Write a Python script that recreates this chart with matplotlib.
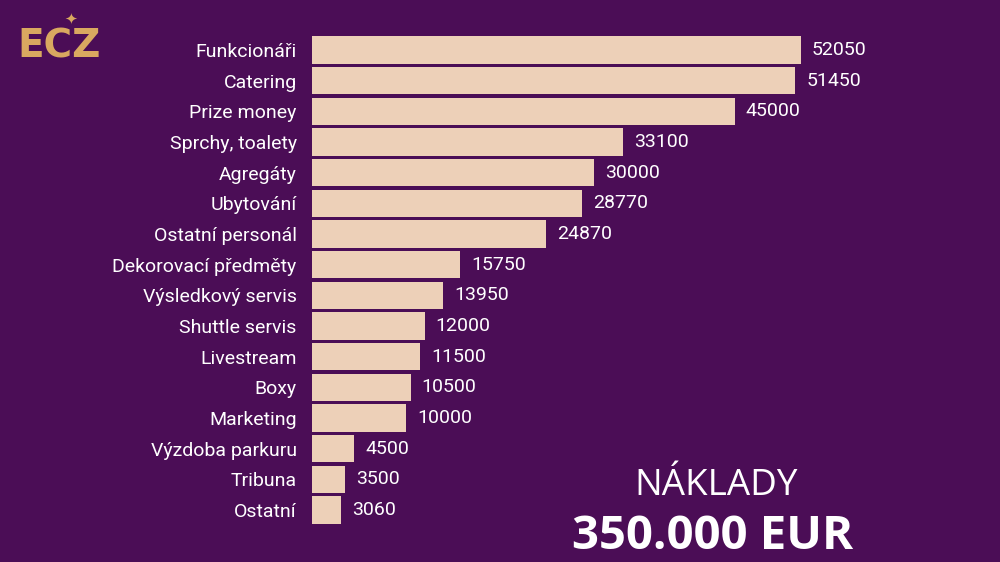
import matplotlib.pyplot as plt

# data
kategorie = ["Funkcionáři", "Catering", "Prize money", "Sprchy, toalety", "Agregáty",
             "Ubytování", "Ostatní personál", "Dekorovací předměty", "Výsledkový servis",
             "Shuttle servis", "Livestream", "Boxy", "Marketing", "Výzdoba parkuru",
             "Tribuna", "Ostatní"]
naklady = [52050, 51450, 45000, 33100, 30000, 28770, 24870, 15750, 13950,
           12000, 11500, 10500, 10000, 4500, 3500, 3060]
celkem_titulek = "NÁKLADY"
celkem_text = "350.000 EUR"

pozadi = "#4b0d56"
barva_sloupce = "#edd0b8"

fig = plt.figure(figsize=(10, 5.62), dpi=100, facecolor=pozadi)
ax = fig.add_axes([0.312, 1 - 525.3 / 562, 0.688, 490.6 / 562])
ax.set_facecolor(pozadi)

n = len(kategorie)
pozice = list(range(n))
ax.barh(pozice, naklady, height=0.9, color=barva_sloupce, edgecolor="none")
ax.set_xlim(0, 73230)
ax.set_ylim(n - 0.5, -0.5)

for poz, hodnota in zip(pozice, naklady):
    ax.annotate(str(hodnota), xy=(hodnota, poz), xytext=(11, 0), textcoords="offset pixels",
                va="center", ha="left", color="white", fontsize=14, family="Roboto")

ax.set_yticks(pozice)
ax.set_yticklabels(kategorie, color="white", fontsize=14, family="Roboto")
ax.tick_params(axis="y", length=0, pad=11)
ax.set_xticks([])
for s in ax.spines.values():
    s.set_visible(False)

# souhrn
fig.text(0.716, 0.135, celkem_titulek, color="white", fontsize=26.5, family="Open Sans",
         ha="center", va="center")
fig.text(0.713, 0.046, celkem_text, color="white", fontsize=34, family="Open Sans",
         fontweight="bold", ha="center", va="center")

# logo
fig.text(0.059, 0.918, "ECZ", color="#d9a860", fontsize=28, family="DejaVu Sans",
         fontweight="bold", ha="center", va="center")
fig.text(0.071, 0.966, "✦", color="#d9a860", fontsize=11, ha="center", va="center")

fig.savefig("out.png", dpi=100, facecolor=pozadi)
